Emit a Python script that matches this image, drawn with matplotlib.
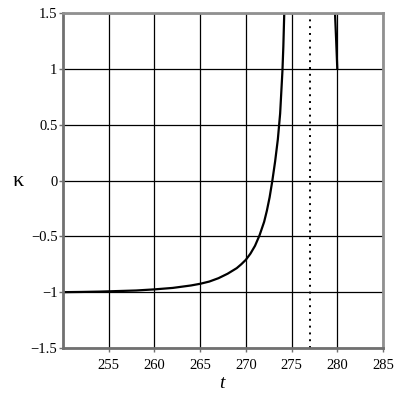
import matplotlib
matplotlib.use("Agg")
import matplotlib.pyplot as plt

# ======================================================
# DATA
# ======================================================

t_left = [250, 252, 254, 256, 258, 260, 262, 264, 265, 266, 267, 268, 269,
          269.5, 270, 270.5, 271, 271.5, 272, 272.3, 272.6, 272.9, 273.2,
          273.5, 273.75, 274.0, 274.1, 274.2]
kappa_left = [-1.0, -0.998, -0.995, -0.99, -0.985, -0.975, -0.962, -0.94,
              -0.925, -0.905, -0.875, -0.835, -0.785, -0.75, -0.71, -0.655,
              -0.585, -0.49, -0.37, -0.27, -0.15, 0.0, 0.17, 0.37, 0.6,
              0.98, 1.2, 1.5]

t_right = [279.75, 279.88, 280.0]
kappa_right = [1.5, 1.25, 1.0]

asymptote_t = 277

x_ticks = [255, 260, 265, 270, 275, 280, 285]
y_ticks = [-1.5, -1, -0.5, 0, 0.5, 1, 1.5]
y_tick_labels = ["\u22121.5", "\u22121", "\u22120.5", "0", "0.5", "1", "1.5"]

# ======================================================
# PLOT
# ======================================================

plt.rcParams['font.family'] = ['Liberation Serif', 'DejaVu Serif']

fig = plt.figure(figsize=(4, 4), dpi=100)
ax = fig.add_axes([0.1575, 0.13, 0.8, 0.8375])

ax.set_xlim(250, 285)
ax.set_ylim(-1.5, 1.5)

ax.set_xticks(x_ticks)
ax.set_yticks(y_ticks)
ax.set_yticklabels(y_tick_labels)

ax.grid(True, color="black", linewidth=0.9)
ax.set_axisbelow(True)

ax.plot(t_left, kappa_left, color="black", linewidth=1.6)
ax.plot(t_right, kappa_right, color="black", linewidth=1.6)
ax.axvline(asymptote_t, color="black", linestyle=(0, (1, 2.5)), linewidth=1.4)

for side in ["left", "bottom"]:
    ax.spines[side].set_color("#707070")
    ax.spines[side].set_linewidth(2.0)
for side in ["top", "right"]:
    ax.spines[side].set_color("#909090")
    ax.spines[side].set_linewidth(2.0)

ax.tick_params(axis="both", direction="out", length=3, width=1,
               color="#707070", labelsize=10.5)
ax.tick_params(axis="x", pad=5)
ax.tick_params(axis="y", pad=1)

fig.text(0.045, 0.547, "\u03ba", fontsize=16, ha="center", va="center")
fig.text(0.555, 0.042, "t", fontsize=14, style="italic", ha="center", va="center")

fig.savefig("out.png", dpi=100)
